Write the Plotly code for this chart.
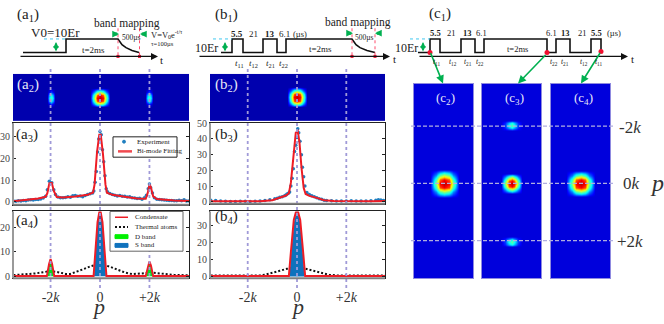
import plotly.graph_objects as go

W, H = 664, 324
SERIF = "Liberation Serif"
LAV = "#a09ad8"
GREEN = "#00b050"
CYAN = "#40c8f0"
RED = "#ee1c25"
DOTRED = "#ff4d6d"
JET = [[0, "#00007f"], [.11, "#0000ff"], [.34, "#00ffff"], [.5, "#7fff7f"], [.65, "#ffff00"], [.89, "#ff0000"], [1, "#7f0000"]]

# ---- measured curves ----
a3_exp_p = [-3.5,-3.4,-3.3,-3.2,-3.1,-3.0,-2.9,-2.8,-2.7,-2.6,-2.5,-2.4,-2.3,-2.2,-2.13,-2.05,-1.95,-1.87,-1.8,-1.7,-1.6,-1.5,-1.4,-1.3,-1.2,-1.1,-1.0,-.9,-.8,-.7,-.6,-.5,-.4,-.3,-.25,-.2,-.15,-.1,-.05,0,.05,.1,.15,.2,.25,.3,.4,.5,.6,.7,.8,.9,1.0,1.1,1.2,1.3,1.4,1.5,1.6,1.7,1.8,1.88,1.95,2.0,2.05,2.12,2.2,2.3,2.4,2.5,2.6,2.7,2.8,2.9,3.0,3.1,3.2,3.3,3.4,3.5,3.6]
a3_exp_y = [.3,.2,.5,.4,.6,.5,.8,.9,.8,1.0,1.1,1.3,1.7,2.5,5.5,9.5,8.8,5.5,3.4,2.2,1.8,1.9,2.0,2.3,2.1,2.8,2.9,2.6,2.7,2.3,2.9,3.4,3.7,4.0,5,9,14,23,29,32.5,31,24,18.5,12,6,4.6,3.8,3.4,3.0,2.7,2.9,2.5,2.5,2.2,2.3,1.9,1.7,1.5,1.6,1.2,1.8,3.0,6.0,8.2,6.5,4,1.8,1.2,1.1,.9,.8,.7,.6,.6,.5,.5,.7,.5,.9,.4,.3]
a3_fit_p = [-3.52,-3,-2.5,-2.2,-2.13,-2.05,-1.95,-1.87,-1.75,-1.5,-1,-.5,-.28,-.22,-.12,-.03,.03,.12,.22,.28,.5,1,1.5,1.85,1.93,2,2.05,2.15,2.3,3,3.6]
a3_fit_y = [.2,.7,1.5,2.3,4,8.5,8.7,5,2.2,2,2.4,3.2,4.3,8,23,31,31,22,8,4.2,3.2,2.3,1.5,1.4,4,8,7,2.5,1.3,.6,.3]

b3_exp_p = [-3.5,-3.3,-3.1,-2.9,-2.7,-2.5,-2.3,-2.1,-1.9,-1.7,-1.5,-1.3,-1.1,-.9,-.8,-.7,-.6,-.5,-.45,-.4,-.35,-.3,-.25,-.2,-.15,-.1,-.05,0,.03,.07,.12,.18,.22,.27,.32,.4,.5,.6,.7,.8,.9,1.0,1.1,1.2,1.4,1.6,1.8,2.0,2.2,2.4,2.6,2.8,3.0,3.2,3.3,3.4,3.5,3.6]
b3_exp_y = [1.0,.9,.5,.3,.2,.2,.3,.4,.2,.4,.6,.8,1.3,1.9,2.3,2.9,3.3,3.9,4.4,5.0,5.5,6.2,10,15,21,32,36,41,46.5,44,38.5,30,22,16,10,6,4.6,3.9,3.3,2.6,2.0,1.6,1.0,.9,.7,.6,.5,.6,.7,.6,.5,.6,.7,1.0,1.3,1.1,.9,.8]
b3_fit_p = [-3.53,-2,-1.5,-1,-.7,-.45,-.33,-.25,-.15,-.05,.03,.1,.18,.27,.35,.5,.8,1.1,1.5,2,3,3.6]
b3_fit_y = [.3,.2,.3,1,2.5,4,5.5,12,28,44,45,38,22,9,5,3.8,2.5,1,.5,.4,.4,.6]

a4_cond_p = [-3.52,-2.15,-2.06,-2,-1.94,-1.85,-.26,-.18,-.1,0,.1,.18,.26,1.85,1.94,2,2.06,2.15,3.6]
a4_cond_y = [.1,.1,5,7,5,.1,.1,11,22,27.5,22,11,.1,.1,4.4,6,4.4,.1,.1]
a4_thermal_p = [-3.5,-3,-2.6,-2.3,-2,-1.7,-1.4,-1.2,-1.0,-.7,-.4,-.15,0,.15,.4,.7,1,1.3,1.5,1.7,2,2.3,2.6,3,3.6]
a4_thermal_y = [.5,.8,1.2,1.7,2.1,1.7,1.0,1.0,1.6,2.8,4.0,4.7,4.8,4.7,3.9,2.7,1.6,.9,.9,1.2,1.6,1.4,1,.6,.4]
a4_d_p = [-2.13,-2.06,-2,-1.94,-1.87,None,1.87,1.94,2,2.06,2.13]
a4_d_y = [0,4.6,6.4,4.6,0,None,0,4,5.6,4,0]
a4_s_p = [-.24,-.18,-.1,0,.1,.18,.24]
a4_s_y = [0,10,21,27,21,10,0]

b4_cond_p = [-3.53,-.33,-.25,-.13,0,.13,.25,.33,3.57]
b4_cond_y = [.3,.3,14,33,40,33,14,.3,.3]
b4_thermal_p = [-3.5,-2,-1.5,-1.3,-1,-.7,-.4,-.15,0,.15,.4,.7,1,1.3,1.6,2,3.57]
b4_thermal_y = [.5,.5,.6,1,2,3.3,4.5,5.2,5.4,5.2,4.3,3.2,2,1,.6,.5,.5]
b4_s_p = [-.31,-.24,-.12,0,.12,.24,.31]
b4_s_y = [0,13,32,39,32,13,0]

# ---- absorption images (jet intensity, 0-1), .04 means background ----
CORE = [[.04,.04,.04,.04,.04,.04,.04],
        [.04,.22,.42,.52,.42,.22,.04],
        [.04,.42,.80,.90,.80,.42,.04],
        [.04,.52,.90,.95,.90,.52,.04],
        [.04,.42,.82,.90,.82,.42,.04],
        [.04,.24,.45,.54,.45,.24,.04],
        [.04,.04,.04,.04,.04,.04,.04]]
SIDE_V = [[.04,.04,.04,.04,.04],
          [.04,.09,.16,.09,.04],
          [.04,.24,.36,.24,.04],
          [.04,.30,.42,.30,.04],
          [.04,.24,.36,.24,.04],
          [.04,.09,.16,.09,.04],
          [.04,.04,.04,.04,.04]]
SIDE_H = [[.04,.04,.04,.04,.04,.04,.04],
          [.04,.14,.28,.36,.28,.14,.04],
          [.04,.17,.38,.46,.38,.17,.04],
          [.04,.14,.28,.36,.28,.14,.04],
          [.04,.04,.04,.04,.04,.04,.04]]

a2_x = [-3.52,-2.16,-2.08,-2,-1.92,-1.84,-.4,-.26,-.13,0,.13,.26,.4,1.84,1.92,2,2.08,2.16,3.6]
a2_y = [-1,-.4,-.26,-.13,0,.13,.26,.4,1]
b2_x = [-3.53,-.4,-.26,-.13,0,.13,.26,.4,3.57]
b2_y = [-1,-.45,-.3,-.15,-.03,.12,.26,.4,1]
c2_x = [-1,-.47,-.27,-.12,.03,.18,.33,.53,1]
c2_y = [-3.5,-.5,-.3,-.15,0,.15,.3,.5,3.33]
c3_x = [-1,-.36,-.23,-.1,0,.1,.23,.36,1]
c3_y = [-3.5,-2.22,-2.14,-2.04,-1.96,-1.86,-.36,-.23,-.1,0,.1,.23,.36,1.86,1.96,2.04,2.14,2.22,3.33]
c4_x = [-1,-.48,-.3,-.15,0,.15,.3,.48,1]
c4_y = [-3.5,-.45,-.28,-.14,0,.14,.28,.45,3.33]


def stamp(xs, ys, bg, patches):
    z = [[bg] * len(xs) for _ in ys]
    for ix, iy, patch in patches:
        for r, row in enumerate(patch):
            for c, val in enumerate(row):
                z[iy + r][ix + c] = max(bg, val)
    return z


a2_z = stamp(a2_x, a2_y, .04, [(1, 1, SIDE_V), (6, 1, CORE), (13, 1, SIDE_V)])
b2_z = stamp(b2_x, b2_y, .04, [(1, 1, CORE)])
c2_z = stamp(c2_x, c2_y, .08, [(1, 1, CORE)])
c3_z = stamp(c3_x, c3_y, .08, [(1, 1, SIDE_H), (1, 6, CORE), (1, 13, SIDE_H)])
c4_z = stamp(c4_x, c4_y, .08, [(1, 1, CORE)])


def hdom(x0, x1):
    return [x0 / W, x1 / W]


def vdom(y0, y1):
    return [1 - y1 / H, 1 - y0 / H]


fig = go.Figure()

# heatmaps
images = [("x", "y", a2_x, a2_y, a2_z), ("x2", "y2", b2_x, b2_y, b2_z),
          ("x3", "y3", c2_x, c2_y, c2_z), ("x4", "y4", c3_x, c3_y, c3_z),
          ("x5", "y5", c4_x, c4_y, c4_z)]
for xa, ya, xs, ys, zz in images:
    fig.add_trace(go.Heatmap(x=xs, y=ys, z=zz, xaxis=xa, yaxis=ya, colorscale=JET,
                             zmin=0, zmax=1, zsmooth="best", showscale=False))

# a3 / b3
fig.add_trace(go.Scatter(x=a3_exp_p, y=a3_exp_y, mode="markers", name="Experiment", xaxis="x6", yaxis="y6",
                         marker=dict(color="#1f7fc0", size=3.5)))
fig.add_trace(go.Scatter(x=a3_fit_p, y=a3_fit_y, mode="lines", name="Bi-mode Fitting", xaxis="x6", yaxis="y6",
                         line=dict(color=RED, width=2)))
fig.add_trace(go.Scatter(x=b3_exp_p, y=b3_exp_y, mode="markers", xaxis="x7", yaxis="y7",
                         marker=dict(color="#1f7fc0", size=3.5)))
fig.add_trace(go.Scatter(x=b3_fit_p, y=b3_fit_y, mode="lines", xaxis="x7", yaxis="y7",
                         line=dict(color=RED, width=2)))

# a4 / b4
fig.add_trace(go.Scatter(x=a4_thermal_p, y=a4_thermal_y, mode="lines", name="Thermal atoms", xaxis="x8", yaxis="y8",
                         line=dict(color="#111111", width=2, dash="2px,2px")))
fig.add_trace(go.Scatter(x=a4_d_p, y=a4_d_y, mode="none", fill="toself", fillcolor="#00e020", name="D band",
                         xaxis="x8", yaxis="y8"))
fig.add_trace(go.Scatter(x=a4_s_p, y=a4_s_y, mode="none", fill="toself", fillcolor="#0f72bd", name="S band",
                         xaxis="x8", yaxis="y8"))
fig.add_trace(go.Scatter(x=a4_cond_p, y=a4_cond_y, mode="lines", name="Condensate", xaxis="x8", yaxis="y8",
                         line=dict(color=RED, width=2)))
fig.add_trace(go.Scatter(x=b4_thermal_p, y=b4_thermal_y, mode="lines", xaxis="x9", yaxis="y9",
                         line=dict(color="#111111", width=2, dash="2px,2px")))
fig.add_trace(go.Scatter(x=b4_s_p, y=b4_s_y, mode="none", fill="toself", fillcolor="#0f72bd", xaxis="x9", yaxis="y9"))
fig.add_trace(go.Scatter(x=b4_cond_p, y=b4_cond_y, mode="lines", xaxis="x9", yaxis="y9",
                         line=dict(color=RED, width=2)))

# ---- timing sketches, drawn on a page-sized axis ----
a1_t = [23, 66, 66, 118, 122, 126, 132, 139]
a1_v = [48, 48, 34, 34, 40, 43, 46, 48]
b1_t = [221, 232, 232, 243, 243, 263, 263, 277, 277, 286, 286, 352, 356, 360, 367, 375]
b1_v = [48, 48, 34, 34, 48, 48, 34, 34, 48, 48, 34, 34, 40, 43, 46, 48]
c1_t = [418, 430, 430, 440, 440, 461, 461, 475, 475, 484, 484, 547, 547, 556, 556, 570, 570, 591, 591, 601, 601]
c1_v = [48, 48, 34, 34, 48, 48, 34, 34, 48, 48, 34, 34, 48, 48, 34, 34, 48, 48, 34, 34, 48]
for tt, vv in [(a1_t, a1_v), (b1_t, b1_v), (c1_t, c1_v)]:
    fig.add_trace(go.Scatter(x=tt, y=vv, mode="lines", xaxis="x10", yaxis="y10",
                             line=dict(color="#111111", width=1.6)))
fig.add_trace(go.Scatter(x=[118, 139.5, 352, 375], y=[52, 52, 52, 52], mode="markers", xaxis="x10", yaxis="y10",
                         marker=dict(color="#f01030", size=3, symbol="square")))
fig.add_trace(go.Scatter(x=[430, 547, 601], y=[48, 48, 47], mode="markers", xaxis="x10", yaxis="y10",
                         marker=dict(color="#f01030", size=5)))

shapes = []


def pline(x0, y0, x1, y1, color, width=1, dash="solid", layer="above"):
    shapes.append(dict(type="line", xref="paper", yref="paper", x0=x0 / W, x1=x1 / W, y0=1 - y0 / H, y1=1 - y1 / H,
                       line=dict(color=color, width=width, dash=dash), layer=layer))


def pbox(x0, y0, x1, y1, fill, edge_color=None, kind="rect"):
    shapes.append(dict(type=kind, xref="paper", yref="paper", x0=x0 / W, x1=x1 / W, y0=1 - y0 / H, y1=1 - y1 / H,
                       fillcolor=fill, line=dict(color=edge_color or fill, width=1), layer="above"))


# dashed guides across the image and the two plots
for xa in ["x6", "x7"]:
    for v in [-2, 0, 2]:
        shapes.append(dict(type="line", xref=xa, yref="paper", x0=v, x1=v, y0=1 - 65 / H, y1=1 - 292 / H,
                           line=dict(color=LAV, width=1.8, dash="3px,3px"), layer="above"))
for py in [124, 183, 242]:
    pline(411, py, 614, py, "#b0aee0", 1.2, "4px,2px")
# grey left and bottom edges of the plot frames
for x0, x1, y0, y1 in [(13, 189, 121, 205), (13, 189, 212, 281), (210, 385, 121, 204), (210, 385, 212, 281)]:
    pline(x0, y0, x0, y1, "#9a9a9a", 2)
    pline(x0, y1, x1, y1, "#808080", 2)
# cyan and red dotted sketch guides
for x0, x1 in [(44, 66), (213, 232), (410, 430)]:
    pline(x0, 34, x1, 34, CYAN, 1, "dot")
for px in [118, 139.5, 352, 375]:
    pline(px, 23, px, 53, DOTRED, 1, "dot")

# hand made legends, the library's rows are too tall at this size
pbox(113, 135, 177, 156, "white", "#222222")
pbox(122.5, 138.5, 125.5, 141.5, "#1f7fc0", kind="circle")
pline(118, 150, 132, 150, "#f04a50", 2.5)
pbox(110, 212, 183, 253, "white", "#666666")
pline(115, 218, 128, 218, RED, 1.5)
pline(115, 228, 128, 228, "#111111", 2, "2px,2px")
pbox(115, 236, 128, 240, "#00f000")
pbox(115, 245, 128, 249, "#0f72bd")

annotations = []


def label(px, py, text, size=10, color="#222222", anchor="center"):
    annotations.append(dict(xref="paper", yref="paper", x=px / W, y=1 - py / H, text=text, showarrow=False,
                            xanchor=anchor, yanchor="middle", font=dict(family=SERIF, size=size, color=color)))


def arrow(x0, y0, x1, y1, color=GREEN, width=1.5, side="end", size=1.0):
    annotations.append(dict(xref="paper", yref="paper", x=x1 / W, y=1 - y1 / H, ax=x0 - x1, ay=y0 - y1, text="",
                            showarrow=True, arrowhead=2, arrowside=side, arrowcolor=color, arrowwidth=width,
                            arrowsize=size, startarrowhead=2, startarrowsize=size))


label(135, 140, "Experiment", 7, anchor="left")
label(135, 150, "Bi-mode Fitting", 7, anchor="left")
label(133, 218, "Condensate", 7, anchor="left")
label(133, 228, "Thermal atoms", 7, anchor="left")
label(133, 238, "D band", 7, anchor="left")
label(133, 247, "S band", 7, anchor="left")

# time axes
arrow(19, 52, 158, 52, "#111111", 1.4)
arrow(198, 52, 390, 52, "#111111", 1.4)
arrow(418, 52, 628, 52, "#111111", 1.4)
# energy double arrows
arrow(56, 36, 56, 47, GREEN, 1.4, "end+start", 0.8)
arrow(225, 36, 225, 47, GREEN, 1.4, "end+start", 0.8)
arrow(423, 36, 423, 47, GREEN, 1.4, "end+start", 0.8)
# band mapping arrows
arrow(112, 29, 119, 29, GREEN, 3, "end", 0.45)
arrow(147, 29, 140, 29, GREEN, 3, "end", 0.45)
arrow(346, 28, 353, 28, GREEN, 3, "end", 0.45)
arrow(382, 28, 375, 28, GREEN, 3, "end", 0.45)
# c1 arrows down to images
arrow(430, 48, 443, 80, GREEN, 1.6)
arrow(547, 50, 518, 80, GREEN, 1.6)
arrow(601, 48, 581, 80, GREEN, 1.6)

for px, py, txt in [(28, 9, "(a<sub>1</sub>)"), (226, 9, "(b<sub>1</sub>)"), (440, 8, "(c<sub>1</sub>)"),
                    (27, 133, "(a<sub>3</sub>)"), (27, 222, "(a<sub>4</sub>)"),
                    (226, 133, "(b<sub>3</sub>)"), (226, 218, "(b<sub>4</sub>)")]:
    label(px, py, txt, 15)
for px, py, txt in [(28, 82, "(a<sub>2</sub>)"), (226, 82, "(b<sub>2</sub>)")]:
    label(px, py, txt, 15, "#e8e8f8")
for px, txt in [(445, "(c<sub>2</sub>)"), (514, "(c<sub>3</sub>)"), (583, "(c<sub>4</sub>)")]:
    label(px, 95, txt, 13, "#e8e8f8")

label(56, 27, "V0=10Er", 13)
label(127, 18, "band mapping", 11.5)
label(131, 33, "500µs", 7.5)
label(93, 45, "t=2ms", 9)
label(167, 29, "V=V<sub>0</sub>e<sup>-t/τ</sup>", 8.5)
label(162, 39, "τ=100µs", 6.5)
label(161, 56, "t", 11)

label(206, 43, "10Er", 12)
label(358, 17, "band mapping", 11.5)
label(365, 32, "500µs", 7.5)
label(320, 44, "t=2ms", 9)
label(394, 55, "t", 11)
label(237, 29, "<b>5.5</b>", 9)
label(253, 29, "21", 9)
label(270, 29, "<b>13</b>", 9)
label(284, 29, "6.1", 9)
label(300, 29, "(µs)", 8.5)
for px, txt in [(239, "11"), (253, "12"), (270, "21"), (283, "22")]:
    label(px, 59, f"<i>t</i><sub>{txt}</sub>", 9)

label(406, 43, "10Er", 12)
label(517, 44, "t=2ms", 8.5)
label(632, 55, "t", 11)
for px, txt in [(435, "<b>5.5</b>"), (451, "21"), (467, "<b>13</b>"), (481, "6.1"),
                (551, "6.1"), (565, "<b>13</b>"), (582, "21"), (596, "<b>5.5</b>"), (614, "(µs)")]:
    label(px, 28, txt, 8.5)
for px, txt in [(437, "11"), (453, "12"), (468, "21"), (480, "22"), (554, "22"), (565, "21"), (584, "12"), (599, "11")]:
    label(px, 58, f"<i>t</i><sub>{txt}</sub>", 7.5)

label(630, 125, "-2<i>k</i>", 17, "#333333")
label(631, 183, "0<i>k</i>", 17, "#333333")
label(630, 243, "+2<i>k</i>", 17, "#333333")
label(657, 183, "<i>p</i>", 24, "#333333")
label(98, 310.5, "<i>p</i>", 22, "#333333")
label(297, 310.5, "<i>p</i>", 22, "#333333")

yticks = dict(ticks="inside", ticklen=3, tickcolor="#222222", showgrid=False, zeroline=False, showline=True,
              linecolor="#222222", linewidth=1, mirror="ticks", tickfont=dict(family=SERIF, size=10, color="#444444"))
xplain = dict(showgrid=False, zeroline=False, showline=True, linecolor="#222222", linewidth=1, mirror=True,
              showticklabels=False, ticks="")
xbottom = dict(showgrid=False, zeroline=False, showline=True, linecolor="#222222", linewidth=1, mirror=True,
               ticks="", tickvals=[-2, 0, 2], ticktext=["-2<i>k</i>", "0", "+2<i>k</i>"],
               ticklabelstandoff=6, tickfont=dict(family=SERIF, size=14, color="#333333"))
edge = dict(showgrid=False, zeroline=False, showline=True, linecolor="#8f8ae0", linewidth=1, mirror=True,
            showticklabels=False, ticks="")
bare = dict(showgrid=False, zeroline=False, showticklabels=False, ticks="")

fig.update_layout(
    width=W, height=H, margin=dict(l=0, r=0, t=0, b=0), autosize=False, showlegend=False,
    paper_bgcolor="white", plot_bgcolor="rgba(0,0,0,0)", font=dict(family=SERIF),
    shapes=shapes, annotations=annotations,
    # images
    xaxis=dict(domain=hdom(13, 189), range=[-3.52, 3.6], anchor="y", **bare),
    yaxis=dict(domain=vdom(70, 119), range=[1, -1], anchor="x", **bare),
    xaxis2=dict(domain=hdom(210, 385), range=[-3.53, 3.57], anchor="y2", **bare),
    yaxis2=dict(domain=vdom(70, 119), range=[1, -1], anchor="x2", **bare),
    xaxis3=dict(domain=hdom(414, 473), range=[-1, 1], anchor="y3", **edge),
    yaxis3=dict(domain=vdom(80, 281), range=[3.33, -3.5], anchor="x3", **edge),
    xaxis4=dict(domain=hdom(482, 541), range=[-1, 1], anchor="y4", **edge),
    yaxis4=dict(domain=vdom(80, 281), range=[3.33, -3.5], anchor="x4", **edge),
    xaxis5=dict(domain=hdom(551, 610), range=[-1, 1], anchor="y5", **edge),
    yaxis5=dict(domain=vdom(80, 281), range=[3.33, -3.5], anchor="x5", **edge),
    # plots
    xaxis6=dict(domain=hdom(13, 189), range=[-3.52, 3.6], anchor="y6", **xplain),
    yaxis6=dict(domain=vdom(121, 205), range=[-1.35, 36.3], anchor="x6", tickvals=[0, 10, 20, 30], **yticks),
    xaxis7=dict(domain=hdom(210, 385), range=[-3.53, 3.57], anchor="y7", **xplain),
    yaxis7=dict(domain=vdom(121, 204), range=[-1.2, 50], anchor="x7", tickvals=[0, 10, 20, 30, 40, 50], **yticks),
    xaxis8=dict(domain=hdom(13, 189), range=[-3.52, 3.6], anchor="y8", **xbottom),
    yaxis8=dict(domain=vdom(212, 281), range=[-.8, 26.3], anchor="x8", tickvals=[0, 10, 20], **yticks),
    xaxis9=dict(domain=hdom(210, 385), range=[-3.53, 3.57], anchor="y9", **xbottom),
    yaxis9=dict(domain=vdom(212, 281), range=[-1.1, 38], anchor="x9", tickvals=[0, 10, 20, 30], **yticks),
    # page sized axis for the sketches
    xaxis10=dict(domain=[0, 1], range=[0, W], anchor="y10", visible=False),
    yaxis10=dict(domain=[0, 1], range=[H, 0], anchor="x10", visible=False),
)

fig.write_html("out.html", config=dict(displayModeBar=False), post_script="document.body.style.margin='0'")
